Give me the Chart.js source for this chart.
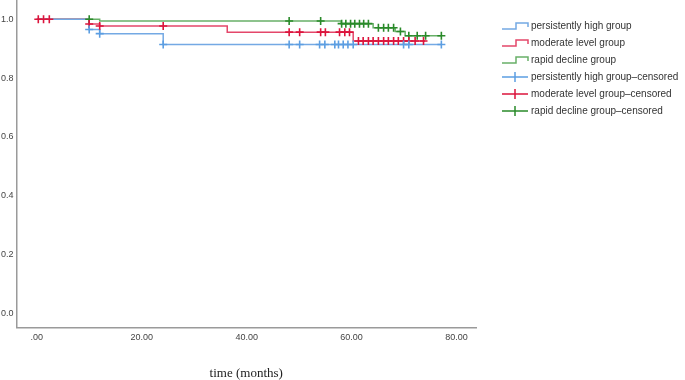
<!DOCTYPE html>
<html><head><meta charset="utf-8">
<script src="https://cdn.jsdelivr.net/npm/chart.js@4.4.0/dist/chart.umd.min.js"></script>
<style>html,body{margin:0;padding:0;background:#fff;overflow:hidden}#wrap{width:687px;height:389px;position:relative;margin-left:-2px;margin-top:-8px}</style>
</head><body><div id="wrap"><canvas id="c"></canvas></div>
<script>
// ---- data ----
const seriesNames = ['persistently high group', 'moderate level group', 'rapid decline group'];
const censoredSuffix = '\u2013censored';
const xTickValues = [0, 20, 40, 60, 80];
const yTickValues = [0, 0.2, 0.4, 0.6, 0.8, 1.0];
const xTitle = 'time (months)';

const highTimes = [0, 10, 12, 24.1, 77.1];
const highSurv  = [1, 0.965, 0.951, 0.914, 0.914];
const highCensored = [10, 12, 24.1, 48.1, 50.1, 53.9, 54.9, 56.8, 57.5, 58.4, 59.3, 60.3, 69.9, 70.9, 77.1];

const modTimes = [0, 10, 12, 36.3, 60.3, 74.0];
const modSurv  = [1, 0.984, 0.977, 0.956, 0.926, 0.926];
const modCensored = [0.3, 1.3, 2.4, 10, 12, 24.1, 48.1, 50.1, 54.1, 55.0, 57.7, 58.7, 59.6,
  61.3, 62.2, 63.2, 64.1, 65.1, 66.1, 67.0, 68.0, 68.9, 69.9, 70.9, 72.1, 73.7];

const rapidTimes = [0, 12, 58.0, 64.1, 68.3, 70.2, 77.1];
const rapidSurv  = [1, 0.994, 0.985, 0.971, 0.958, 0.944, 0.944];
const rapidCensored = [10, 48.1, 54.1, 58.1, 58.9, 59.8, 60.6, 61.5, 62.3, 63.2,
  65.1, 66.1, 67.0, 68.0, 69.3, 70.9, 72.5, 74.1, 77.1];

// ---- styles ----
const lineColors = ['#74a9e4', '#e4476a', '#68b068'];
const markColors = ['#5c9ee2', '#dc143c', '#2a8a2a'];

function kmPoints(times, surv) { return times.map((t, i) => ({x: t, y: surv[i]})); }
function kmLookup(times, surv, t) {
  let v = surv[0];
  for (let i = 0; i < times.length; i++) { if (times[i] <= t) v = surv[i]; }
  return v;
}
function censorPoints(ct, times, surv) { return ct.map(t => ({x: t, y: kmLookup(times, surv, t)})); }

const groups = [[highTimes, highSurv, highCensored], [modTimes, modSurv, modCensored], [rapidTimes, rapidSurv, rapidCensored]];
const datasets = [];
groups.forEach((g, i) => {
  datasets.push({
    label: seriesNames[i], data: kmPoints(g[0], g[1]), stepped: 'before',
    borderColor: lineColors[i], borderWidth: 1.5, pointRadius: 0, fill: false, order: 2
  });
});
groups.forEach((g, i) => {
  datasets.push({
    label: seriesNames[i] + censoredSuffix, data: censorPoints(g[2], g[0], g[1]), showLine: false,
    pointStyle: 'cross', pointRadius: 4, borderColor: markColors[i], backgroundColor: markColors[i],
    pointBorderWidth: 1.6, order: 1
  });
});

// legend drawn in canvas coordinates (canvas is offset by -2, -8)
const legendPlugin = {
  id: 'kmLegend',
  afterDraw(chart) {
    const ctx = chart.ctx;
    ctx.save();
    const x0 = 504, y0 = 34, dy = 17;
    ctx.font = '10px Arial, "Liberation Sans", sans-serif';
    ctx.textBaseline = 'middle';
    ctx.fillStyle = '#333';
    chart.data.datasets.forEach((ds, i) => {
      const y = y0 + i * dy;
      ctx.lineWidth = 1.5;
      if (i < 3) {
        ctx.strokeStyle = lineColors[i];
        ctx.beginPath();
        ctx.moveTo(x0, y + 3); ctx.lineTo(x0 + 14, y + 3); ctx.lineTo(x0 + 14, y - 3);
        ctx.lineTo(x0 + 26, y - 3); ctx.lineTo(x0 + 26, y + 1);
        ctx.stroke();
      } else {
        ctx.strokeStyle = markColors[i - 3];
        ctx.beginPath();
        ctx.moveTo(x0, y); ctx.lineTo(x0 + 26, y);
        ctx.moveTo(x0 + 13, y - 5); ctx.lineTo(x0 + 13, y + 5);
        ctx.stroke();
      }
      ctx.fillText(ds.label, x0 + 29, y);
    });
    ctx.restore();
  }
};

new Chart(document.getElementById('c'), {
  type: 'line',
  data: { datasets },
  options: {
    responsive: true, maintainAspectRatio: false, animation: false,
    layout: { padding: { left: 0, right: 209, top: 0, bottom: 0 } },
    plugins: { legend: { display: false }, tooltip: { enabled: false } },
    scales: {
      x: {
        type: 'linear', min: -3.85, max: 83.7,
        afterBuildTicks(axis) { axis.ticks = xTickValues.map(v => ({value: v})); },
        ticks: {
          color: '#444', font: { size: 9, family: 'Arial, "Liberation Sans", sans-serif' }, padding: 5,
          callback: v => v === 0 ? '.00' : v.toFixed(2)
        },
        grid: { display: false, drawTicks: false },
        border: { display: true, color: '#9a9a9a', width: 1.5 },
        title: { display: true, text: xTitle, color: '#222', padding: { top: 17, bottom: 0 },
          font: { size: 13, family: '"Liberation Serif", "Times New Roman", serif' } }
      },
      y: {
        type: 'linear', min: -0.0486, max: 1.064,
        afterBuildTicks(axis) { axis.ticks = yTickValues.map(v => ({value: v})); },
        ticks: {
          color: '#444', font: { size: 9, family: 'Arial, "Liberation Sans", sans-serif' }, padding: 3,
          callback: v => v.toFixed(1)
        },
        grid: { display: false, drawTicks: false },
        border: { display: true, color: '#9a9a9a', width: 1.5 }
      }
    }
  },
  plugins: [legendPlugin]
});
</script>
</body></html>
